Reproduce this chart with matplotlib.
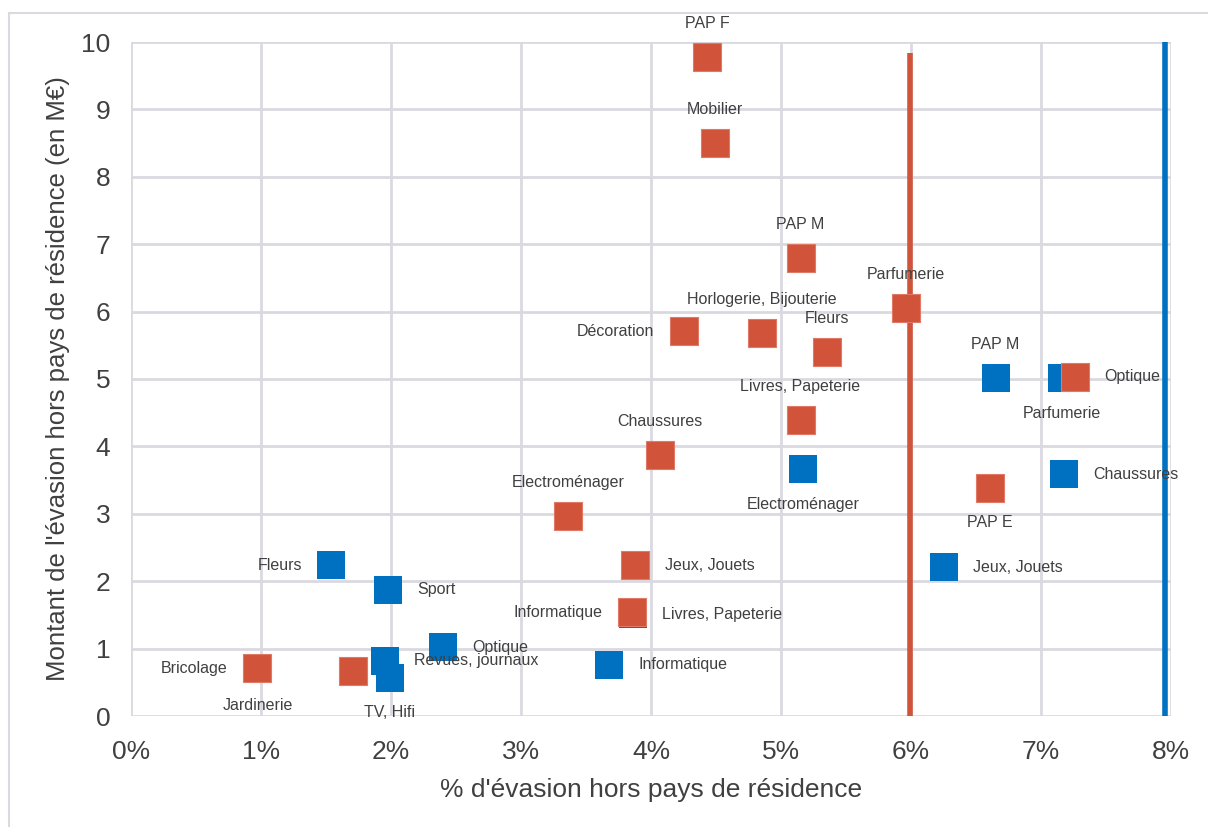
import matplotlib.pyplot as plt
from matplotlib.patches import Rectangle

plt.rcParams['font.family'] = ['Liberation Sans', 'DejaVu Sans']

# Red series
red_names = ['PAP F', 'Mobilier', 'PAP M', 'Parfumerie', 'Décoration',
             'Horlogerie, Bijouterie', 'Fleurs', 'Optique', 'Livres, Papeterie',
             'Chaussures', 'PAP E', 'Electroménager', 'Jeux, Jouets',
             'Informatique', 'Bricolage', 'Jardinerie']
red_x = [4.43, 4.49, 5.15, 5.96, 4.25, 4.85, 5.35, 7.26, 5.15,
         4.07, 6.61, 3.36, 3.88, 3.85, 0.97, 1.71]
red_y = [9.78, 8.50, 6.80, 6.05, 5.71, 5.68, 5.40, 5.03, 4.39,
         3.87, 3.38, 2.97, 2.24, 1.54, 0.71, 0.67]
red_pos = ['above', 'above', 'above', 'above', 'left', 'above', 'above',
           'right', 'above', 'above', 'below', 'above', 'right', 'left',
           'left', 'below']

# Blue series
blue_names = ['PAP M', 'Parfumerie', 'Chaussures', 'Electroménager',
              'Jeux, Jouets', 'Fleurs', 'Sport', 'Livres, Papeterie',
              'Optique', 'Informatique', 'Revues, journaux', 'TV, Hifi']
blue_x = [6.65, 7.16, 7.18, 5.17, 6.25, 1.54, 1.98, 3.86, 2.40, 3.68, 1.95, 1.99]
blue_y = [5.01, 5.01, 3.59, 3.66, 2.21, 2.24, 1.87, 1.51, 1.02, 0.76, 0.82, 0.56]
blue_pos = ['above', 'below', 'right', 'below', 'right', 'left', 'right',
            'right', 'right', 'right', 'right', 'below']

red_line = (5.99, 9.83)
blue_line = (7.95, 10.0)

RED = '#D0533A'
BLUE = '#0070C0'
GRID = '#D9D9E0'
TXT = '#404040'

# labels that sit away from their marker (extra x shift in points)
nudge = {'Jardinerie': -69}

fig = plt.figure(figsize=(12.08, 8.27), dpi=100)
fig.patches.append(Rectangle((9 / 1208, -0.1), 1.2, 1 - 13 / 827 + 0.1,
                             transform=fig.transFigure, fill=False,
                             edgecolor=GRID, linewidth=1.5))
ax = fig.add_axes([131 / 1208, 1 - 716 / 827, 1040 / 1208, 674 / 827])

ax.set_xlim(0, 8)
ax.set_ylim(0, 10)
ax.set_xticks(range(0, 9))
ax.set_xticklabels([f'{i}%' for i in range(0, 9)])
ax.set_yticks(range(0, 11))
ax.grid(True, color=GRID, linewidth=2)
ax.set_axisbelow(True)
for s in ax.spines.values():
    s.set_visible(False)
ax.tick_params(length=0, labelsize=19, colors=TXT)
ax.tick_params(axis='x', pad=17)
ax.tick_params(axis='y', pad=15)
ax.set_xlabel("% d'évasion hors pays de résidence", fontsize=19,
              color=TXT, labelpad=10)
ax.set_ylabel("Montant de l'évasion hors pays de résidence (en M€)",
              fontsize=18.5, color=TXT, labelpad=8)

ax.vlines(red_line[0], 0, red_line[1], color=RED, linewidth=4, zorder=2)
ax.vlines(blue_line[0], 0, blue_line[1], color=BLUE, linewidth=4, zorder=2)


def put_labels(xs, ys, names, pos, shift={}):
    for x, y, n, p in zip(xs, ys, names, pos):
        if p == 'above':
            off, ha = (0, 24), 'center'
        elif p == 'below':
            off, ha = (0, -25), 'center'
        elif p == 'left':
            off, ha = (-21, 0), 'right'
        else:
            off, ha = (21, 0), 'left'
        off = (off[0] + shift.get(n, 0), off[1])
        ax.annotate(n, (x, y), xytext=off, textcoords='offset points',
                    ha=ha, va='center', fontsize=11.5, color=TXT)


ax.scatter(blue_x, blue_y, marker='s', s=380, color=BLUE, linewidths=0, zorder=3)
ax.scatter(red_x, red_y, marker='s', s=400, color=RED, edgecolors='#E07A66',
           linewidths=0.8, zorder=4)
put_labels(blue_x, blue_y, blue_names, blue_pos)
put_labels(red_x, red_y, red_names, red_pos, nudge)

fig.savefig('out.png', dpi=100)
